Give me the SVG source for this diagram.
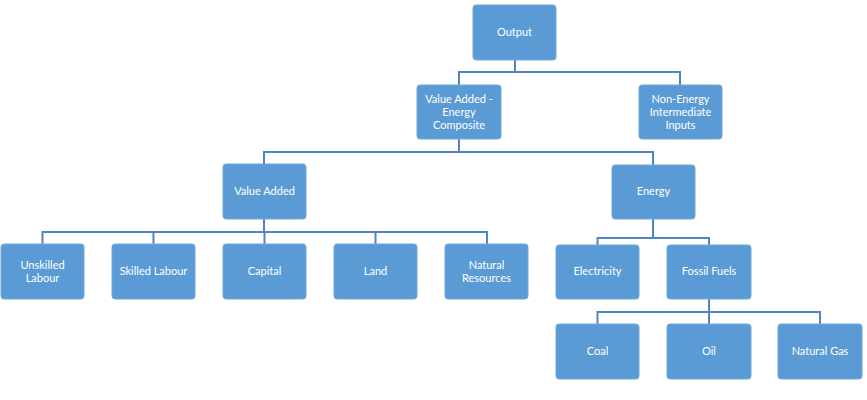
<svg xmlns="http://www.w3.org/2000/svg" width="867" height="400" viewBox="0 0 867 400">
<style>
.b{fill:#5B9BD5;stroke:#6FA8DC;stroke-width:1}
.t{fill:#fff;font-family:Lato,"Liberation Sans",sans-serif;font-size:11px;text-anchor:middle}
.c{fill:none;stroke:#4F86C0;stroke-width:2}
</style>
<rect width="867" height="400" fill="#fff"/>
<g id="connectors">
<path class="c" d="M515 60V72M459 85V72H680V85"/>
<path class="c" d="M459 139V152M264 164V152H653V165"/>
<path class="c" d="M264 219V232M42.5 244V232H487V244M153.5 232V244M264.5 232V244M375.5 232V244"/>
<path class="c" d="M653 219V238M597.5 245V238H709V245"/>
<path class="c" d="M709 299V312M597.5 324V312H820V324M709 312V324"/>
</g>
<g id="output"><rect class="b" x="473" y="5" width="83" height="55" rx="3"/><text class="t" x="514.5" y="36">Output</text></g>
<g id="va-energy"><rect class="b" x="417" y="85" width="84" height="54" rx="3"/><text class="t" x="459" y="103">Value Added -</text><text class="t" x="459" y="116">Energy</text><text class="t" x="459" y="129">Composite</text></g>
<g id="non-energy"><rect class="b" x="639" y="85" width="83" height="54" rx="3"/><text class="t" x="680.5" y="103">Non-Energy</text><text class="t" x="680.5" y="116">Intermediate</text><text class="t" x="680.5" y="129">Inputs</text></g>
<g id="value-added"><rect class="b" x="223" y="164" width="83" height="55" rx="3"/><text class="t" x="264.5" y="195">Value Added</text></g>
<g id="energy"><rect class="b" x="612" y="165" width="83" height="54" rx="3"/><text class="t" x="653.5" y="195">Energy</text></g>
<g id="unskilled"><rect class="b" x="1" y="244" width="83" height="55" rx="3"/><text class="t" x="42.5" y="269">Unskilled</text><text class="t" x="42.5" y="282">Labour</text></g>
<g id="skilled"><rect class="b" x="112" y="244" width="83" height="55" rx="3"/><text class="t" x="153.5" y="275">Skilled Labour</text></g>
<g id="capital"><rect class="b" x="223" y="244" width="83" height="55" rx="3"/><text class="t" x="264.5" y="275">Capital</text></g>
<g id="land"><rect class="b" x="334" y="244" width="83" height="55" rx="3"/><text class="t" x="375.5" y="275">Land</text></g>
<g id="natural-resources"><rect class="b" x="445" y="244" width="83" height="55" rx="3"/><text class="t" x="486.5" y="269">Natural</text><text class="t" x="486.5" y="282">Resources</text></g>
<g id="electricity"><rect class="b" x="556" y="245" width="83" height="54" rx="3"/><text class="t" x="597.5" y="275">Electricity</text></g>
<g id="fossil-fuels"><rect class="b" x="667" y="245" width="84" height="54" rx="3"/><text class="t" x="709" y="275">Fossil Fuels</text></g>
<g id="coal"><rect class="b" x="556" y="324" width="83" height="55" rx="3"/><text class="t" x="597.5" y="355">Coal</text></g>
<g id="oil"><rect class="b" x="667" y="324" width="84" height="55" rx="3"/><text class="t" x="709" y="355">Oil</text></g>
<g id="natural-gas"><rect class="b" x="778" y="324" width="84" height="55" rx="3"/><text class="t" x="820" y="355">Natural Gas</text></g>
</svg>
